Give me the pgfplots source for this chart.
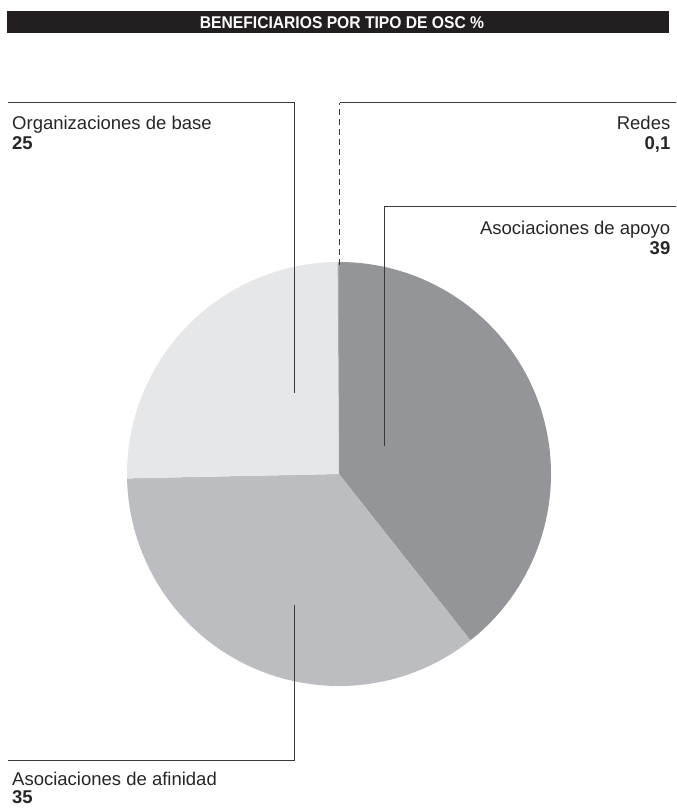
\documentclass[border=0pt]{standalone}
\usepackage{pgfplots}
\usepackage{pgfplotstable}
\pgfplotsset{compat=1.18}
\usepackage{fontspec}
\setmainfont{Liberation Sans}

\definecolor{apoyo}{HTML}{949599}
\definecolor{afinidad}{HTML}{BCBDC1}
\definecolor{base}{HTML}{E6E7E8}
\definecolor{redes}{HTML}{A7A9AC}
\definecolor{barra}{HTML}{231F20}
\definecolor{guia}{HTML}{3A3A3C}

% beneficiarios por tipo de OSC (%)
\pgfplotstableread{
tipo value
apoyo 39
afinidad 35
base 25
redes 0.1
}\pietable

\begin{document}
\begin{tikzpicture}
\pgfplotstablegetelem{0}{value}\of\pietable \pgfmathsetmacro\va{\pgfplotsretval}
\pgfplotstablegetelem{1}{value}\of\pietable \pgfmathsetmacro\vb{\pgfplotsretval}
\pgfplotstablegetelem{2}{value}\of\pietable \pgfmathsetmacro\vc{\pgfplotsretval}
\pgfplotstablegetelem{3}{value}\of\pietable \pgfmathsetmacro\vd{\pgfplotsretval}
\pgfmathsetmacro\tot{\va+\vb+\vc+\vd}
\pgfmathsetmacro\aA{90-360*\va/\tot}
\pgfmathsetmacro\aB{\aA-360*\vb/\tot}
\pgfmathsetmacro\aC{\aB-360*\vc/\tot}
\begin{axis}[
    width=676pt, height=808pt,
    scale only axis,
    xmin=0, xmax=676,
    ymin=0, ymax=808,
    y dir=reverse,
    hide axis,
    clip=false,
]
\addplot[draw=none] coordinates {(0,0) (676,808)};

% title bar
\fill[barra] (axis cs:7,11) rectangle (axis cs:669,33);
\node[text=white, font=\bfseries\fontsize{17}{19}\selectfont, inner sep=0pt, anchor=base]
    at (axis cs:342,28.5) {\scalebox{0.92}[1]{BENEFICIARIOS POR TIPO DE OSC \%}};

% pie
\fill[apoyo] (axis cs:339,474) -- ++(90:212pt) arc[start angle=90, end angle=\aA, radius=212pt] -- cycle;
\fill[afinidad] (axis cs:339,474) -- ++(\aA:212pt) arc[start angle=\aA, end angle=\aB, radius=212pt] -- cycle;
\fill[base] (axis cs:339,474) -- ++(\aB:212pt) arc[start angle=\aB, end angle=\aC, radius=212pt] -- cycle;
\fill[redes] (axis cs:339,474) -- ++(\aC:212pt) arc[start angle=\aC, end angle=-270, radius=212pt] -- cycle;

% leader lines
\draw[guia, line width=1pt] (axis cs:8,102.5) -- (axis cs:294,102.5) -- (axis cs:294,393);
\draw[guia, line width=1pt, dash pattern=on 6pt off 4pt] (axis cs:339.5,265) -- (axis cs:339.5,102.5);
\draw[guia, line width=1pt] (axis cs:339.5,102.5) -- (axis cs:676,102.5);
\draw[guia, line width=1pt] (axis cs:384,446) -- (axis cs:384,206) -- (axis cs:676,206);
\draw[guia, line width=1pt] (axis cs:294.5,605) -- (axis cs:294.5,760) -- (axis cs:8,760);

% labels
\begin{scope}[every node/.style={inner sep=0pt, font=\fontsize{18.5}{20}\selectfont, text=black!85}]
\node[anchor=base west] at (axis cs:12,129.5) {Organizaciones de base};
\node[anchor=base west, font=\bfseries\fontsize{18.5}{20}\selectfont] at (axis cs:12,149) {25};
\node[anchor=base east] at (axis cs:670.5,129.5) {Redes};
\node[anchor=base east, font=\bfseries\fontsize{18.5}{20}\selectfont] at (axis cs:670.5,149) {0,1};
\node[anchor=base east] at (axis cs:670.5,234) {Asociaciones de apoyo};
\node[anchor=base east, font=\bfseries\fontsize{18.5}{20}\selectfont] at (axis cs:670.5,254) {39};
\node[anchor=base west] at (axis cs:12,785) {Asociaciones de afinidad};
\node[anchor=base west, font=\bfseries\fontsize{18.5}{20}\selectfont] at (axis cs:12,803) {35};
\end{scope}
\end{axis}
\end{tikzpicture}
\end{document}
